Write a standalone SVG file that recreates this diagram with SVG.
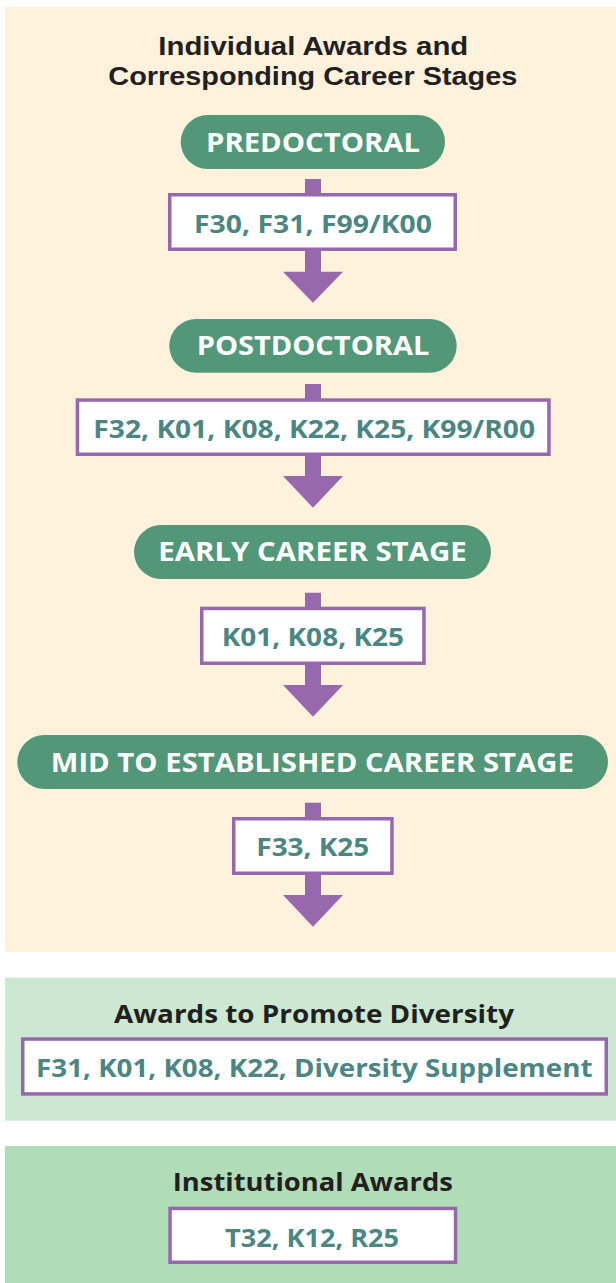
<svg xmlns="http://www.w3.org/2000/svg" width="616" height="1283" viewBox="0 0 616 1283">
<style>
.t{font-family:"Open Sans","Liberation Sans",sans-serif;font-weight:700;text-anchor:middle}
.title{fill:#231f20;font-size:25.5px}
.title2{font-family:"Liberation Sans","Open Sans",sans-serif}
.pill{fill:#539779}
.pt{fill:#ffffff;font-size:26.5px}
.box{fill:#ffffff;stroke:#9868ad;stroke-width:3.5}
.bt{fill:#4b8683;font-size:25.5px}
.conn{fill:#9868ad}
</style>
<rect x="0" y="0" width="616" height="1283" fill="#ffffff"/>
<g id="panel-individual">
<rect x="5" y="6.7" width="611" height="945" fill="#fef2dc"/>
<text class="t title title2" x="313.3" y="55" textLength="310" lengthAdjust="spacingAndGlyphs">Individual Awards and</text>
<text class="t title title2" x="312.8" y="85" textLength="409" lengthAdjust="spacingAndGlyphs">Corresponding Career Stages</text>
</g>
<g id="panel-diversity">
<rect x="5" y="977.7" width="611" height="143" fill="#cce8d2"/>
<text class="t title" x="314" y="1022.7" textLength="400" lengthAdjust="spacingAndGlyphs">Awards to Promote Diversity</text>
</g>
<g id="panel-institutional">
<rect x="5" y="1146" width="611" height="137" fill="#b0dcb8"/>
<text class="t title" x="312.8" y="1190.7" textLength="280" lengthAdjust="spacingAndGlyphs">Institutional Awards</text>
</g>
<g id="connectors">
<polygon class="conn" points="305,179 321,179 321,271.7 343,271.7 313,302.7 283,271.7 305,271.7"/>
<polygon class="conn" points="305,384 321,384 321,476 343,476 313,507.7 283,476 305,476"/>
<polygon class="conn" points="305,592.7 321,592.7 321,685 343,685 313,716.7 283,685 305,685"/>
<polygon class="conn" points="305,802.7 321,802.7 321,895 343,895 313,926.7 283,895 305,895"/>
</g>
<g id="predoctoral">
<rect class="pill" x="180.7" y="115" width="264.3" height="54" rx="27"/>
<text class="t pt" x="313" y="151.7" textLength="214" lengthAdjust="spacingAndGlyphs">PREDOCTORAL</text>
</g>
<g id="predoctoral-awards">
<rect class="box" x="169.75" y="194.75" width="285.5" height="54.5"/>
<text class="t bt" x="313" y="233" textLength="238" lengthAdjust="spacingAndGlyphs">F30, F31, F99/K00</text>
</g>
<g id="postdoctoral">
<rect class="pill" x="169.3" y="319" width="287.4" height="53.7" rx="26.85"/>
<text class="t pt" x="313" y="355" textLength="232.6" lengthAdjust="spacingAndGlyphs">POSTDOCTORAL</text>
</g>
<g id="postdoctoral-awards">
<rect class="box" x="77.45" y="400.05" width="471.5" height="54.2"/>
<text class="t bt" x="314.2" y="437.7" textLength="441.7" lengthAdjust="spacingAndGlyphs">F32, K01, K08, K22, K25, K99/R00</text>
</g>
<g id="early-career">
<rect class="pill" x="134" y="525" width="357" height="54" rx="27"/>
<text class="t pt" x="312.5" y="560.7" textLength="308.3" lengthAdjust="spacingAndGlyphs">EARLY CAREER STAGE</text>
</g>
<g id="early-career-awards">
<rect class="box" x="201.75" y="608.45" width="222.2" height="54.8"/>
<text class="t bt" x="312.85" y="645.7" textLength="182.3" lengthAdjust="spacingAndGlyphs">K01, K08, K25</text>
</g>
<g id="mid-established">
<rect class="pill" x="17.3" y="735" width="590.7" height="54" rx="27"/>
<text class="t pt" x="312.3" y="771.7" textLength="523" lengthAdjust="spacingAndGlyphs">MID TO ESTABLISHED CAREER STAGE</text>
</g>
<g id="mid-established-awards">
<rect class="box" x="233.75" y="818.75" width="158.2" height="54.5"/>
<text class="t bt" x="312.8" y="855.7" textLength="113" lengthAdjust="spacingAndGlyphs">F33, K25</text>
</g>
<g id="diversity-awards">
<rect class="box" x="22.75" y="1039.05" width="583.5" height="54.9"/>
<text class="t bt" x="314.3" y="1077" textLength="556.5" lengthAdjust="spacingAndGlyphs">F31, K01, K08, K22, Diversity Supplement</text>
</g>
<g id="institutional-awards">
<rect class="box" x="170.05" y="1208.45" width="285.5" height="53.8"/>
<text class="t bt" x="312" y="1246.7" textLength="174" lengthAdjust="spacingAndGlyphs">T32, K12, R25</text>
</g>
</svg>
